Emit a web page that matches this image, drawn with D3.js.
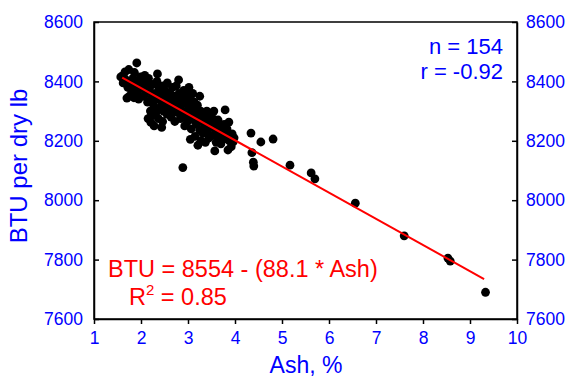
<!DOCTYPE html>
<html><head><meta charset="utf-8">
<script src="https://cdn.jsdelivr.net/npm/d3@7"></script>
<style>body{margin:0;background:#fff}svg{display:block;font-family:"Liberation Sans",Arial,sans-serif}</style>
</head><body><svg id="c" width="572" height="379"></svg>
<script>
const ash = [9.33,8.53,8.58,7.60,6.56,5.62,5.70,5.17,4.81,4.55,4.34,4.36,4.39,4.40,3.79,3.87,3.57,3.85,3.96,3.94,2.89,1.91,1.66,1.57,1.62,1.70,
1.62,1.68,1.72,1.75,1.78,1.80,1.83,1.85,1.88,1.90,1.92,1.95,1.97,1.99,1.86,1.74,1.94,1.98,
2.02,2.04,2.06,2.08,2.10,2.12,2.14,2.16,2.18,2.20,2.21,2.23,2.25,2.27,2.28,2.30,2.32,2.34,2.35,2.37,2.38,2.40,2.42,2.44,2.45,2.46,2.47,2.48,2.49,2.15,
2.51,2.53,2.55,2.56,2.58,2.60,2.62,2.64,2.65,2.67,2.69,2.70,2.72,2.74,2.75,2.77,2.78,2.80,2.81,2.83,2.84,2.86,2.88,2.90,2.91,2.93,2.94,2.96,2.98,2.99,
3.01,3.02,3.04,3.05,3.07,3.08,3.10,3.12,3.13,3.15,3.16,3.18,3.20,3.21,3.23,3.25,3.27,3.28,3.30,3.32,3.33,3.35,3.37,3.39,3.41,3.43,3.45,3.48,
3.51,3.53,3.55,3.58,3.60,3.62,3.64,3.66,3.68,3.70,3.72,3.75,3.77,3.80,3.83,3.88,3.92,3.98,
3.25,3.40,2.22,3.55,3.05,2.35];
const btu = [7690,7805,7795,7880,7990,8092,8072,8118,8206,8196,8226,8160,8128,8115,8304,8263,8166,8169,8196,8223,8110,8462,8432,8415,8395,8344,
8420,8405,8380,8350,8395,8370,8410,8345,8385,8360,8400,8340,8375,8415,8430,8440,8355,8392,
8405,8380,8350,8420,8395,8365,8330,8410,8375,8300,8262,8345,8390,8320,8250,8360,8295,8400,8340,8275,8380,8310,8355,8245,8330,8265,8385,8300,8350,8275,
8370,8325,8290,8395,8345,8310,8360,8280,8335,8380,8300,8350,8265,8320,8385,8340,8295,8405,8360,8310,8275,8345,8325,8285,8370,8250,8340,8300,8355,8265,
8320,8380,8290,8345,8240,8305,8360,8270,8330,8215,8295,8255,8320,8185,8280,8235,8300,8200,8265,8225,8290,8250,8195,8275,8230,8260,8210,8285,
8245,8275,8220,8260,8195,8240,8270,8215,8250,8190,8230,8205,8255,8215,8240,8200,8180,8210,
8350,8300,8285,8300,8205,8425];
const xTicks = [1,2,3,4,5,6,7,8,9,10];
const yTicks = [7600,7800,8000,8200,8400,8600];
const fitIntercept = 8554, fitSlope = -88.1, fitRange = [1.6, 9.3];
const statsText = ["n = 154", "r = -0.92"];
const eqText = "BTU = 8554 - (88.1 * Ash)";

const svg = d3.select("#c");
const L=94, R=517, T=22, B=319;
const x = d3.scaleLinear().domain([1,10]).range([L,R]);
const y = d3.scaleLinear().domain([7600,8600]).range([B,T]);
const blue = "#0000ff", red = "#ff0000";

svg.append("rect").attr("x",L).attr("y",T).attr("width",R-L).attr("height",B-T)
  .attr("fill","none").attr("stroke","#000").attr("stroke-width",1.5);

const bx = svg.append("g").attr("transform",`translate(0,${B})`)
  .call(d3.axisBottom(x).tickValues(xTicks).tickSize(5).tickSizeOuter(0).tickPadding(8).tickFormat(d3.format("d")));
const ly = svg.append("g").attr("transform",`translate(${L},0)`)
  .call(d3.axisLeft(y).tickValues(yTicks).tickSize(-5).tickSizeOuter(0).tickPadding(15).tickFormat(d3.format("d")));
const ry = svg.append("g").attr("transform",`translate(${R},0)`)
  .call(d3.axisRight(y).tickValues(yTicks).tickSize(-5).tickSizeOuter(0).tickPadding(15).tickFormat(d3.format("d")));
[bx,ly,ry].forEach(g=>{
  g.select(".domain").attr("stroke","#000").attr("stroke-width",1.5);
  g.selectAll(".tick line").attr("stroke","#000").attr("stroke-width",1.5);
  g.selectAll(".tick text").attr("fill",blue).attr("font-size",17.5).attr("font-family","Liberation Sans, Arial, sans-serif");
});
ly.selectAll(".tick text").attr("x",-11);
ry.selectAll(".tick text").attr("x",9);

svg.append("g").selectAll("circle").data(ash.map((a,i)=>[a,btu[i]])).join("circle")
  .attr("cx",d=>x(d[0])).attr("cy",d=>y(d[1])).attr("r",4.4).attr("fill","#000");

svg.append("line")
  .attr("x1",x(fitRange[0])).attr("y1",y(fitIntercept+fitSlope*fitRange[0]))
  .attr("x2",x(fitRange[1])).attr("y2",y(fitIntercept+fitSlope*fitRange[1]))
  .attr("stroke",red).attr("stroke-width",2);

svg.append("text").attr("x",306).attr("y",373).attr("text-anchor","middle")
  .attr("fill",blue).attr("font-size",23).text("Ash, %");
svg.append("text").attr("transform",`translate(27,166) rotate(-90)`).attr("text-anchor","middle")
  .attr("fill",blue).attr("font-size",24).text("BTU per dry lb");

svg.append("text").attr("x",503).attr("y",54).attr("text-anchor","end").attr("fill",blue).attr("font-size",22).text(statsText[0]);
svg.append("text").attr("x",503).attr("y",79).attr("text-anchor","end").attr("fill",blue).attr("font-size",22).text(statsText[1]);

svg.append("text").attr("x",108).attr("y",277).attr("fill",red).attr("font-size",23.5).text(eqText);
const r2 = svg.append("text").attr("x",129).attr("y",305).attr("fill",red).attr("font-size",23.5);
r2.append("tspan").text("R");
r2.append("tspan").attr("dy",-10).attr("font-size",15).text("2");
r2.append("tspan").attr("dy",10).text(" = 0.85");
</script></body></html>
